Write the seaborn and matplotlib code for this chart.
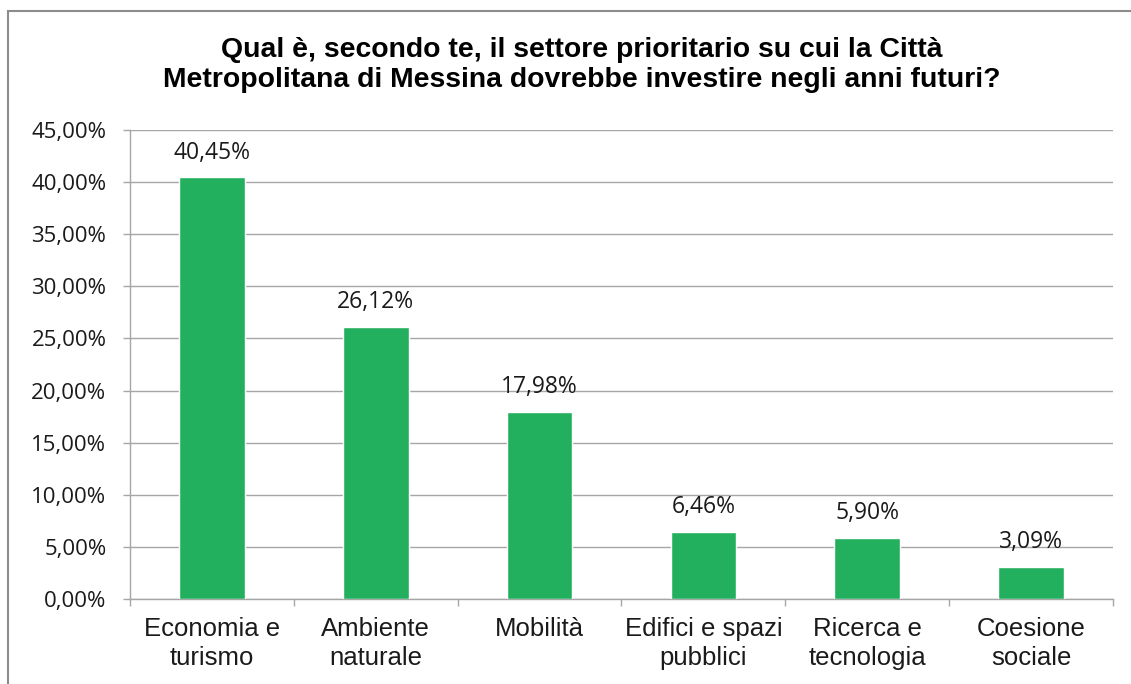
import matplotlib
matplotlib.use('Agg')
import matplotlib.pyplot as plt
import seaborn as sns
import pandas as pd
from matplotlib.patches import Rectangle
from matplotlib.ticker import FuncFormatter, MultipleLocator, FixedLocator

sns.set_theme(style='white')
plt.rcParams['font.family'] = ['Liberation Sans', 'DejaVu Sans']

# Data
settori = ['Economia e\nturismo', 'Ambiente\nnaturale', 'Mobilità',
           'Edifici e spazi\npubblici', 'Ricerca e\ntecnologia', 'Coesione\nsociale']
percentuali = [40.45, 26.12, 17.98, 6.46, 5.90, 3.09]
titolo = ('Qual è, secondo te, il settore prioritario su cui la Città\n'
          'Metropolitana di Messina dovrebbe investire negli anni futuri?')

df = pd.DataFrame({'settore': settori, 'perc': percentuali})

fig = plt.figure(figsize=(11.31, 6.84), dpi=100)
W, H = 1131, 684
ax = fig.add_axes([130 / W, 1 - 599 / H, (1113 - 130) / W, (599 - 130) / H])

grid_col = '#A6A6A6'
sns.barplot(data=df, x='settore', y='perc', color='#23B05E', width=0.4,
            saturation=1, ax=ax, zorder=3)

ax.set_ylim(0, 45)
ax.set_xlim(-0.5, len(settori) - 0.5)
ax.yaxis.set_major_locator(MultipleLocator(5))
ax.yaxis.set_major_formatter(FuncFormatter(lambda v, p: f'{v:.2f}%'.replace('.', ',')))
ax.grid(axis='y', color=grid_col, linewidth=1, zorder=0)
ax.set_axisbelow(True)

ax.set_xlabel('')
ax.set_ylabel('')
for s in ['top', 'right']:
    ax.spines[s].set_visible(False)
for s in ['left', 'bottom']:
    ax.spines[s].set_color(grid_col)
    ax.spines[s].set_linewidth(1)

ax.tick_params(axis='y', which='major', left=True, length=5, width=1, color=grid_col,
               labelsize=16, pad=12, labelcolor='#1a1a1a')
for lab in ax.get_yticklabels():
    lab.set_fontfamily(['Open Sans', 'DejaVu Sans'])

ax.xaxis.set_minor_locator(FixedLocator([i - 0.5 for i in range(len(settori) + 1)]))
ax.tick_params(axis='x', which='major', length=0, labelsize=18.5, pad=13, labelcolor='#1a1a1a')
ax.tick_params(axis='x', which='minor', bottom=True, length=5, width=1, color=grid_col)
for lab in ax.get_xticklabels():
    lab.set_linespacing(1.25)

for i, v in enumerate(percentuali):
    ax.annotate(f'{v:.2f}%'.replace('.', ','), (i, v), xytext=(0, 9),
                textcoords='offset points', ha='center', va='bottom',
                fontsize=16.5, color='#1a1a1a', family=['Open Sans', 'DejaVu Sans'])

fig.text(582 / W, 1 - 65 / H, titolo, ha='center', va='center', fontsize=20.4,
         fontweight='bold', linespacing=1.22, color='#000000')

# outer chart frame
fig.patches.append(Rectangle((8 / W, -0.1), 1.2, 1 - 11 / H + 0.1,
                             transform=fig.transFigure, fill=False,
                             edgecolor='#8C8C8C', linewidth=1.5))

fig.savefig('out.png', dpi=100)
